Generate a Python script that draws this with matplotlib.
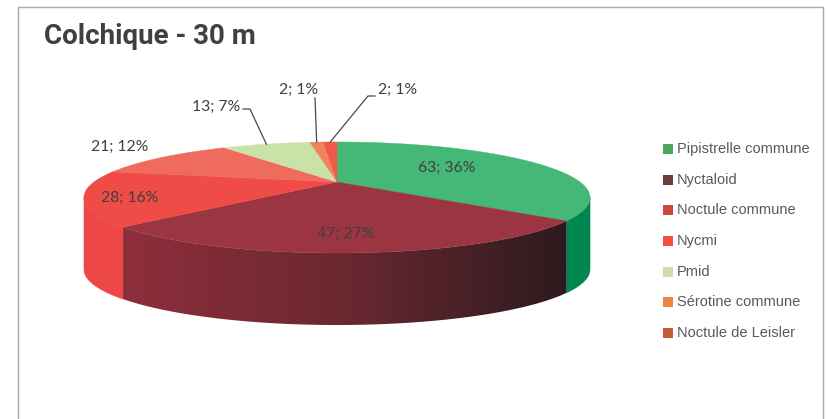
import numpy as np
import matplotlib.pyplot as plt
from matplotlib.patches import Polygon, Rectangle
from matplotlib.colors import LinearSegmentedColormap

# data
species = ["Pipistrelle commune", "Nyctaloid", "Noctule commune", "Nycmi",
           "Pmid", "Sérotine commune", "Noctule de Leisler"]
counts = [63, 47, 28, 21, 13, 2, 2]

# colours (pie top, pie side, legend)
top_colors = ["#45b877", "#9a3541", "#ef4b47", "#ef6b5e", "#c9e2a7", "#f1845d", "#ee5a49"]
side_colors = ["#00874f", None, "#ed4845", "#ec665a", "#b9d596", "#e27a55", "#e05244"]
legend_colors = ["#4ea65a", "#6f3d3d", "#c94a3b", "#f0503c", "#ccdeae", "#e8873f", "#c55b3a"]

# label anchors (pixels)
label_xy = [(447, 168), (346, 234), (130, 198), (120, 147), (216, 107), (299, 90), (398, 90)]

# pie geometry in pixels, with a little perspective
CX, CY = 337, 182
A, B, K = 243, 51.2, 0.279
DEPTH = 72


def proj(t_deg, drop=0.0):
    t = np.radians(t_deg)
    x = np.cos(t)
    z = np.sin(t)
    w = 1 + K * z
    return CX + A * x / w, CY - B * z / w + drop


fig = plt.figure(figsize=(8.27, 4.19), dpi=100)
ax = fig.add_axes([0, 0, 1, 1])
ax.axis("off")

total = sum(counts)
bounds = 90 - 360 * np.concatenate([[0], np.cumsum(counts)]) / total
t_right = -np.degrees(np.arcsin(K))
t_left = -180 - t_right

# side walls (front half only)
for i in range(len(counts)):
    hi = min(bounds[i], t_right)
    lo = max(bounds[i + 1], t_left)
    if lo >= hi:
        continue
    ts = np.linspace(hi, lo, 80)
    tx, ty = proj(ts)
    bx, by = proj(ts[::-1], DEPTH)
    pts = np.column_stack([np.concatenate([tx, bx]), np.concatenate([ty, by])])
    if side_colors[i] is None:
        # dark red wall, shaded darker to the right
        patch = Polygon(pts, closed=True, facecolor="none", edgecolor="none")
        ax.add_patch(patch)
        cmap = LinearSegmentedColormap.from_list("wall", ["#8e2e3b", "#6a2831", "#2d1a1e"])
        grad = np.linspace(0, 1, 256).reshape(1, -1)
        im = ax.imshow(grad, cmap=cmap, aspect="auto", zorder=1,
                       extent=(pts[:, 0].min(), pts[:, 0].max(), pts[:, 1].max(), pts[:, 1].min()))
        im.set_clip_path(patch)
    else:
        ax.add_patch(Polygon(pts, closed=True, facecolor=side_colors[i],
                             edgecolor=side_colors[i], lw=0.3, zorder=1))

# top faces
for i in range(len(counts)):
    ts = np.linspace(bounds[i], bounds[i + 1], 120)
    tx, ty = proj(ts)
    pts = np.column_stack([np.concatenate([[CX], tx]), np.concatenate([[CY], ty])])
    ax.add_patch(Polygon(pts, closed=True, facecolor=top_colors[i],
                         edgecolor=top_colors[i], lw=0.3, zorder=2))

# data labels
for i, (c, (lx, ly)) in enumerate(zip(counts, label_xy)):
    pct = round(100 * c / total)
    ax.text(lx, ly, f"{c}; {pct}%", ha="center", va="center", fontsize=11.3,
            family="Lato", color="#404040", zorder=4)

# leader lines for the small slices
mids = (bounds[:-1] + bounds[1:]) / 2
line_kw = dict(color="#4a4a4a", lw=0.9, zorder=3)
mx, my = proj(mids[4])
ax.plot([243, 250, mx], [109, 109, my], **line_kw)
mx, my = proj(mids[5])
ax.plot([315, mx], [98, my], **line_kw)
mx, my = proj(mids[6])
ax.plot([375, 368, mx], [96, 96, my], **line_kw)

# legend
leg_y = [149, 180, 210, 241, 272, 302, 333]
for name, col, y in zip(species, legend_colors, leg_y):
    ax.add_patch(Rectangle((663, y - 5), 10, 10, facecolor=col, edgecolor="none"))
    ax.text(677, y, name, ha="left", va="center", fontsize=10.5,
            family="Liberation Sans", color="#595959")

# title and frame
ax.text(44, 44, "Colchique - 30 m", fontsize=20, fontweight="bold",
        family="Roboto", color="#404040", va="baseline")
ax.add_patch(Rectangle((17.5, 7.5), 805, 430, facecolor="none",
                       edgecolor="#aaaaaa", lw=1.0, zorder=5))

ax.set_xlim(0, 827)
ax.set_ylim(419, 0)
fig.savefig("out.png", dpi=100)
